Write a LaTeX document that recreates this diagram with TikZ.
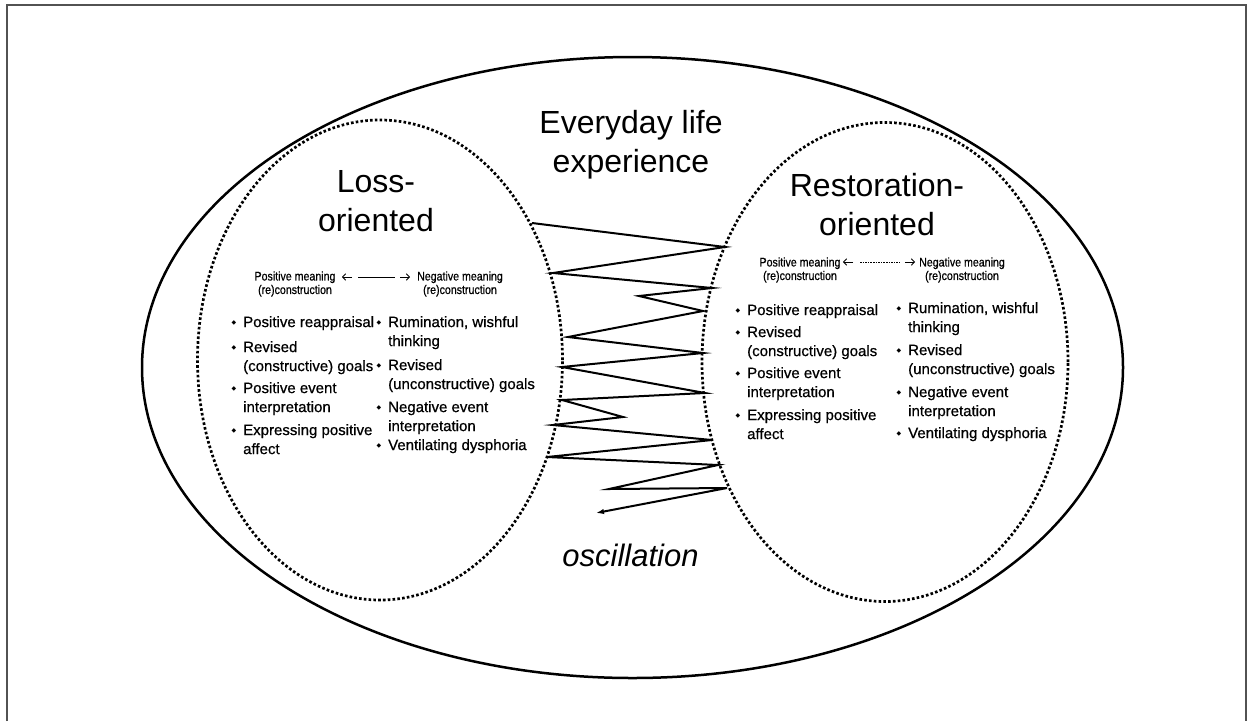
\documentclass[tikz,border=0pt]{standalone}
\usepackage{fontspec}
\setmainfont{Liberation Sans}
\newfontfamily\hdrfont[FakeStretch=0.85,FakeBold=0.6]{Liberation Sans}
\newfontfamily\itemfont[FakeBold=0.7]{Liberation Sans}
\newfontfamily\dvfont{DejaVu Sans}
\usetikzlibrary{shapes.geometric,arrows.meta}
\newcommand{\blt}{\llap{\raisebox{3pt}{\dvfont\fontsize{6}{6}\selectfont ◆}\hspace{7pt}}}
\begin{document}
\begin{tikzpicture}[x=1pt,y=-1pt,
  frameline/.style={draw=black!68, line width=1.5pt},
  outerell/.style={ellipse, draw, line width=2.5pt, inner sep=0pt},
  dotell/.style={ellipse, draw, line width=2.7pt, dash pattern=on 2.6pt off 2.2pt, inner sep=0pt},
  titletext/.style={font=\fontsize{32}{39}\selectfont, align=center, inner sep=0pt, anchor=north},
  itemtext/.style={font=\itemfont\fontsize{15}{19}\selectfont, align=left, anchor=north west, inner sep=0pt},
  hdrtext/.style={font=\hdrfont\fontsize{12.5}{13.5}\selectfont, align=center, inner sep=0pt},
  hdrarrow/.style={line width=0.9pt, -{Straight Barb[length=3pt,width=6.5pt,line width=0.9pt]}},
  zig/.style={line width=2pt},
  hdrline/.style={line width=0.9pt}]
\useasboundingbox (0,0) rectangle (1247,721);
\draw[frameline] (7,721) -- (7,5) -- (1246,5) -- (1246,721);

% ellipses
\node[outerell, minimum width=981pt, minimum height=621pt] (outer) at (632.5,367.5) {};
\node[dotell, minimum width=365pt, minimum height=480pt] (loss) at (380,360) {};
\node[dotell, minimum width=366pt, minimum height=479pt] (rest) at (885,362) {};

% titles
\node[titletext] (everyday) at (631,110) {Everyday life\\experience};
\node[titletext] (losst) at (376,170) {Loss-\\oriented};
\node[titletext] (restt) at (877,173) {Restoration-\\oriented};
\node[font=\fontsize{31}{36}\selectfont\itshape, inner sep=0pt, anchor=base] (osc) at (630.5,566) {oscillation};

% left block header
\node[hdrtext] (lpos) at (295,284) {Positive meaning\\(re)construction};
\node[hdrtext] (lneg) at (460,284) {Negative meaning\\(re)construction};
\coordinate (la1) at (352,277); \coordinate (la2) at (342,277);
\coordinate (lm1) at (358,277); \coordinate (lm2) at (395,277);
\coordinate (lr1) at (400,277); \coordinate (lr2) at (410,277);
\draw[hdrarrow] (la1) -- (la2);
\draw[hdrline] (lm1) -- (lm2);
\draw[hdrarrow] (lr1) -- (lr2);

% right block header
\node[hdrtext] (rpos) at (800,270) {Positive meaning\\(re)construction};
\node[hdrtext] (rneg) at (962,270) {Negative meaning\\(re)construction};
\coordinate (ra1) at (853,262); \coordinate (ra2) at (843,262);
\coordinate (rm1) at (860,262); \coordinate (rm2) at (900,262);
\coordinate (rr1) at (905,262); \coordinate (rr2) at (915,262);
\draw[hdrarrow] (ra1) -- (ra2);
\draw[hdrline, line width=0.6pt, dash pattern=on 1.6pt off 1pt] (rm1) -- (rm2);
\draw[hdrarrow] (rr1) -- (rr2);

% left block items
\node[itemtext] (lp1) at (243,316) {\blt Positive reappraisal};
\node[itemtext] (lp2) at (243,341) {\blt Revised\\(constructive) goals};
\node[itemtext] (lp3) at (243,382) {\blt Positive event\\interpretation};
\node[itemtext] (lp4) at (243,424) {\blt Expressing positive\\affect};
\node[itemtext] (ln1) at (388,316) {\blt Rumination, wishful\\thinking};
\node[itemtext] (ln2) at (388,359) {\blt Revised\\(unconstructive) goals};
\node[itemtext] (ln3) at (388,401) {\blt Negative event\\interpretation};
\node[itemtext] (ln4) at (388,439) {\blt Ventilating dysphoria};

% right block items
\node[itemtext] (rp1) at (747,304) {\blt Positive reappraisal};
\node[itemtext] (rp2) at (747,326) {\blt Revised\\(constructive) goals};
\node[itemtext] (rp3) at (747,367) {\blt Positive event\\interpretation};
\node[itemtext] (rp4) at (747,409) {\blt Expressing positive\\affect};
\node[itemtext] (rn1) at (908,302) {\blt Rumination, wishful\\thinking};
\node[itemtext] (rn2) at (908,344) {\blt Revised\\(unconstructive) goals};
\node[itemtext] (rn3) at (908,386) {\blt Negative event\\interpretation};
\node[itemtext] (rn4) at (908,427) {\blt Ventilating dysphoria};

% oscillation zigzag
\coordinate (z1) at (532,223);
\coordinate (z2) at (725,247);
\coordinate (z3) at (553,273);
\coordinate (z4) at (712,288);
\coordinate (z5) at (639,296);
\coordinate (z6) at (703,311);
\coordinate (z7) at (568,337);
\coordinate (z8) at (703,353);
\coordinate (z9) at (562,367);
\coordinate (z10) at (705,393);
\coordinate (z11) at (562,400);
\coordinate (z12) at (623,417);
\coordinate (z13) at (553,425);
\coordinate (z14) at (712,440);
\coordinate (z15) at (547,457);
\coordinate (z16) at (718,465);
\coordinate (z17) at (609,489);
\coordinate (z18) at (727,488);
\coordinate (z19) at (596,513);
\draw[zig, -{Latex[length=8pt,width=5.5pt]}] (z1) -- (z2) -- (z3) -- (z4) -- (z5) -- (z6) -- (z7) -- (z8) -- (z9) -- (z10) -- (z11) -- (z12) -- (z13) -- (z14) -- (z15) -- (z16) -- (z17) -- (z18) -- (z19);
\end{tikzpicture}
\end{document}
